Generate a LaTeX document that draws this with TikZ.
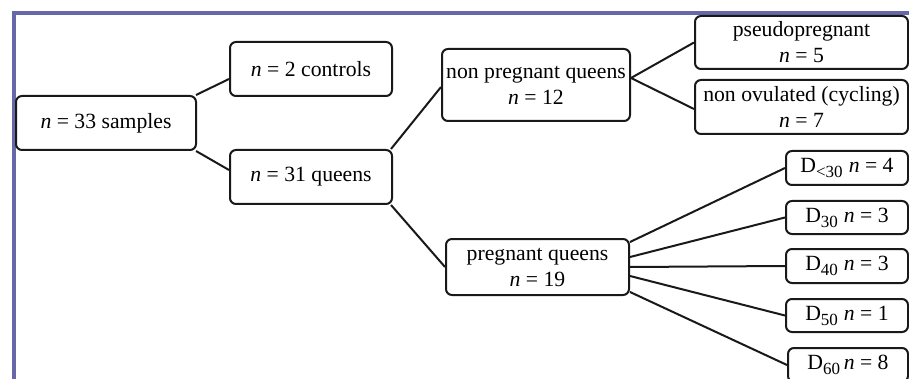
\documentclass[tikz,border=0pt]{standalone}
\usepackage{fontspec}
\setmainfont{Liberation Serif}
\definecolor{frameblue}{RGB}{104,104,168}
\definecolor{ink}{RGB}{25,25,25}
\newcommand{\mysub}[1]{\raisebox{-5pt}{\fontsize{17}{17}\selectfont #1}}
\begin{document}
\begin{tikzpicture}[x=1pt,y=-1pt,
  box/.style={draw=ink,line width=2pt,rounded corners=6pt,fill=white,
    inner sep=0pt,align=center,font=\fontsize{21.7}{26}\selectfont},
  link/.style={draw=ink,line width=2pt}]
\useasboundingbox (0,0) rectangle (909,379);
\clip (0,0) rectangle (909,379);
\fill[white] (0,0) rectangle (909,379);
\draw[frameblue,line width=4pt] (14,379) -- (14,13.5) -- (909,13.5);
% nodes
\node[box,minimum width=180pt,minimum height=54pt] (samples) at (106,123) {\textit{n} = 33 samples};
\node[box,minimum width=162pt,minimum height=54pt] (controls) at (311,69) {\textit{n} = 2 controls};
\node[box,minimum width=162pt,minimum height=54pt] (queens) at (311,177) {\textit{n} = 31 queens};
\node[box,minimum width=188pt,minimum height=72pt] (nonpreg) at (536,85) {non pregnant queens\\\textit{n} = 12};
\node[box,minimum width=183pt,minimum height=56pt] (preg) at (537.5,267) {pregnant queens\\\textit{n} = 19};
\node[box,minimum width=213pt,minimum height=53pt] (pseudo) at (801.5,42.5) {pseudopregnant\\\textit{n} = 5};
\node[box,minimum width=213pt,minimum height=54pt] (nonov) at (801.5,107) {non ovulated (cycling)\\\textit{n} = 7};
\node[box,minimum width=122pt,minimum height=34pt] (d1) at (847,168) {D\mysub{<30}\;\textit{n} = 4};
\node[box,minimum width=122pt,minimum height=33pt] (d2) at (847,217.5) {D\mysub{30}\;\textit{n} = 3};
\node[box,minimum width=122pt,minimum height=34pt] (d3) at (847,266) {D\mysub{40}\;\textit{n} = 3};
\node[box,minimum width=122pt,minimum height=33pt] (d4) at (847,315.5) {D\mysub{50}\;\textit{n} = 1};
\node[box,minimum width=120pt,minimum height=34pt] (d5) at (848,365) {D\mysub{60}\,\textit{n} = 8};
% connectors
\draw[link] ([xshift=-1pt]samples.north east) -- ([yshift=-10pt]controls.west);
\draw[link] ([xshift=-1pt]samples.south east) -- ([yshift=7pt]controls.west |- queens.west);
\draw[link] ([xshift=-2pt]queens.north east) -- ([yshift=-2pt]nonpreg.west);
\draw[link] ([xshift=-2pt]queens.south east) -- (preg.west);
\draw[link] ([yshift=7pt]nonpreg.east) -- (pseudo.west);
\draw[link] ([yshift=7pt]nonpreg.east) -- ([yshift=-2pt]nonov.west);
\draw[link] ([yshift=25pt]preg.east) -- (d1.west);
\draw[link] ([yshift=10pt]preg.east) -- (d2.west);
\draw[link] (preg.east) -- (d3.west);
\draw[link] ([yshift=-9pt]preg.east) -- (d4.west);
\draw[link] ([yshift=-25pt]preg.east) -- (d5.west);
\end{tikzpicture}
\end{document}
